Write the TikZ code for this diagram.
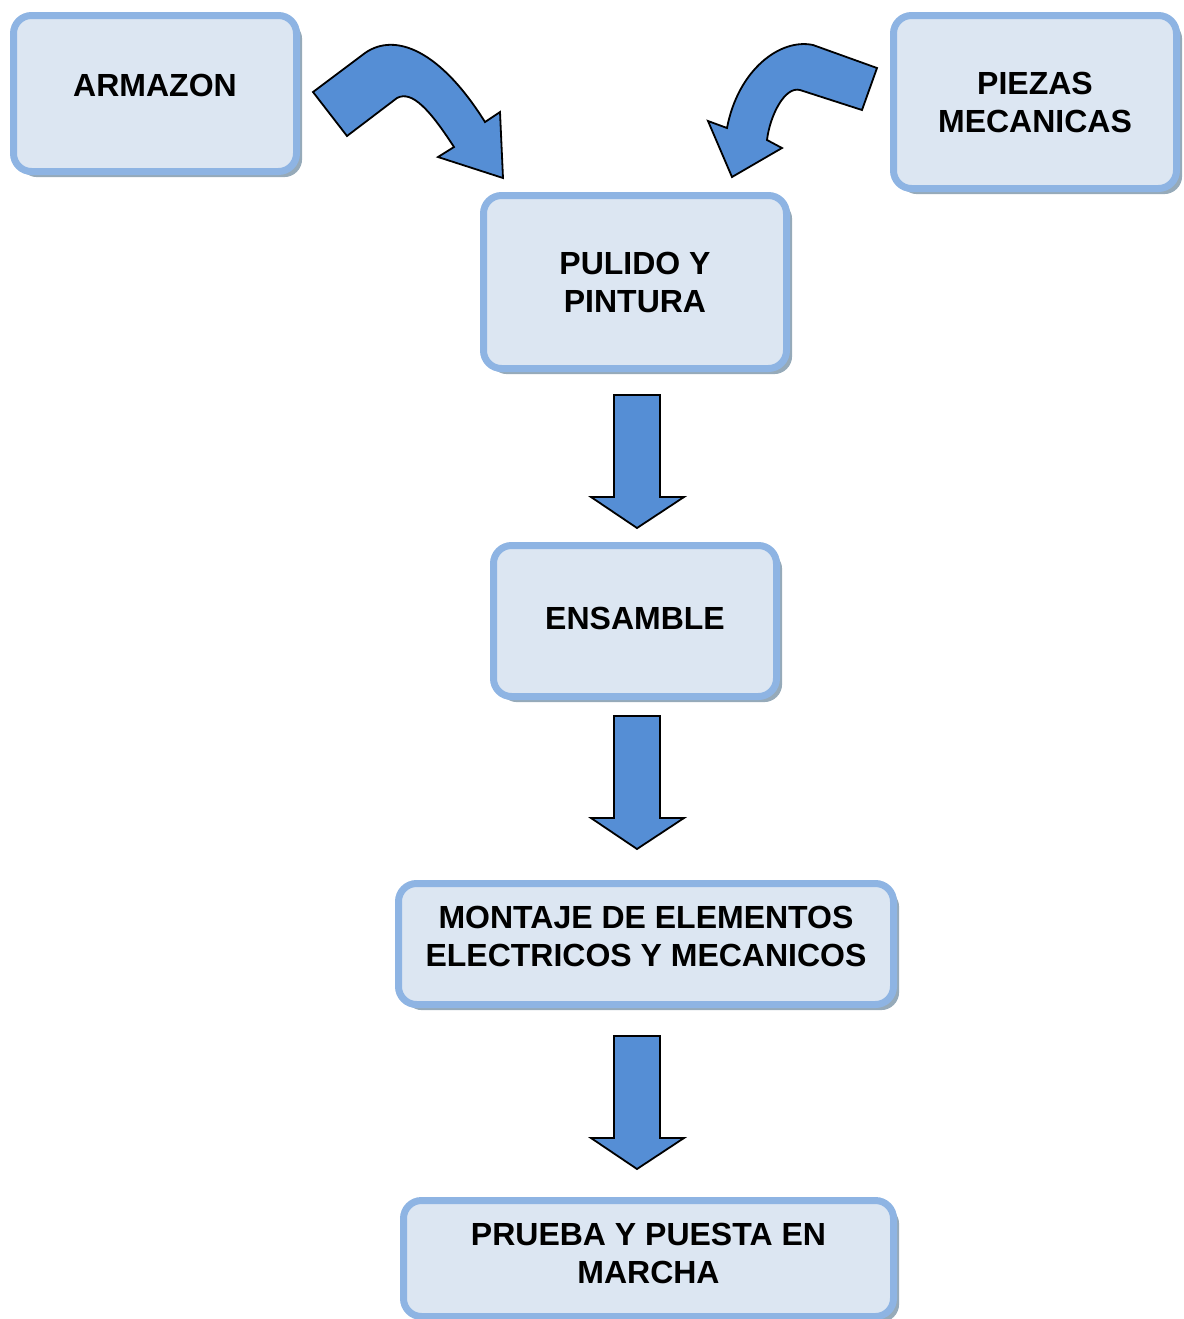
\documentclass[tikz,border=0pt]{standalone}
\usepackage{fontspec}
\setmainfont{Liberation Sans}
\usetikzlibrary{shadows}
\definecolor{boxfill}{RGB}{220,230,242}
\definecolor{boxline}{RGB}{142,180,227}
\definecolor{boxshade}{RGB}{150,170,185}
\definecolor{arrowblue}{RGB}{85,142,213}

\begin{document}
\begin{tikzpicture}
    [x=0.5pt,y=-0.5pt,
     paso/.style={shape=rectangle,rounded corners=9pt,draw=boxline,line width=3.5pt,fill=boxfill,
       general shadow={shadow xshift=2.8pt,shadow yshift=-2.8pt,fill=boxshade},
       align=center,inner sep=0pt,font=\fontsize{16}{19}\selectfont\bfseries},
     bloque/.style={fill=arrowblue,draw=black,line width=0.9pt,line join=miter}]
    \useasboundingbox (0,0) rectangle (1184,1319);
    \node [paso,minimum width=141.5pt,minimum height=78pt,text depth=8pt] (armazon) at (155,93.5) {ARMAZON};
    \node [paso,minimum width=141.5pt,minimum height=86.5pt] (piezas) at (1035,102) {PIEZAS\\MECANICAS};
    \node [paso,minimum width=151.5pt,minimum height=86.5pt] (pulido) at (635,282) {PULIDO Y\\PINTURA};
    \node [paso,minimum width=141.5pt,minimum height=75.5pt,text depth=3pt] (ensamble) at (635,621) {ENSAMBLE};
    \node [paso,minimum width=247.5pt,minimum height=60.5pt,text depth=8pt] (montaje) at (646,944) {MONTAJE DE ELEMENTOS\\ELECTRICOS Y MECANICOS};
    \node [paso,minimum width=245pt,minimum height=58pt,text depth=5pt] (prueba) at (648.5,1258.5) {PRUEBA Y PUESTA EN\\MARCHA};
    \draw [bloque] (313,92) -- (365,53) .. controls (395,32) and (440,50) .. (485,122)
      -- (500,112) -- (503,178) -- (438,157) -- (454,147)
      .. controls (430,110) and (412,90) .. (397,98) -- (347,136) -- cycle;
    \draw [bloque] (877,68) -- (813,45) .. controls (780,38) and (738,70) .. (727,128)
      -- (708,121) -- (732,177) -- (782,148) -- (767,140)
      .. controls (770,115) and (785,86) .. (800,90) -- (862,110) -- cycle;
    \foreach \arriba in {395,716,1036}
      \draw [bloque] (614,\arriba) -- (660,\arriba) -- (660,\arriba+102) -- (684,\arriba+102)
        -- (637,\arriba+133) -- (591,\arriba+102) -- (614,\arriba+102) -- cycle;
  \end{tikzpicture}
\end{document}
